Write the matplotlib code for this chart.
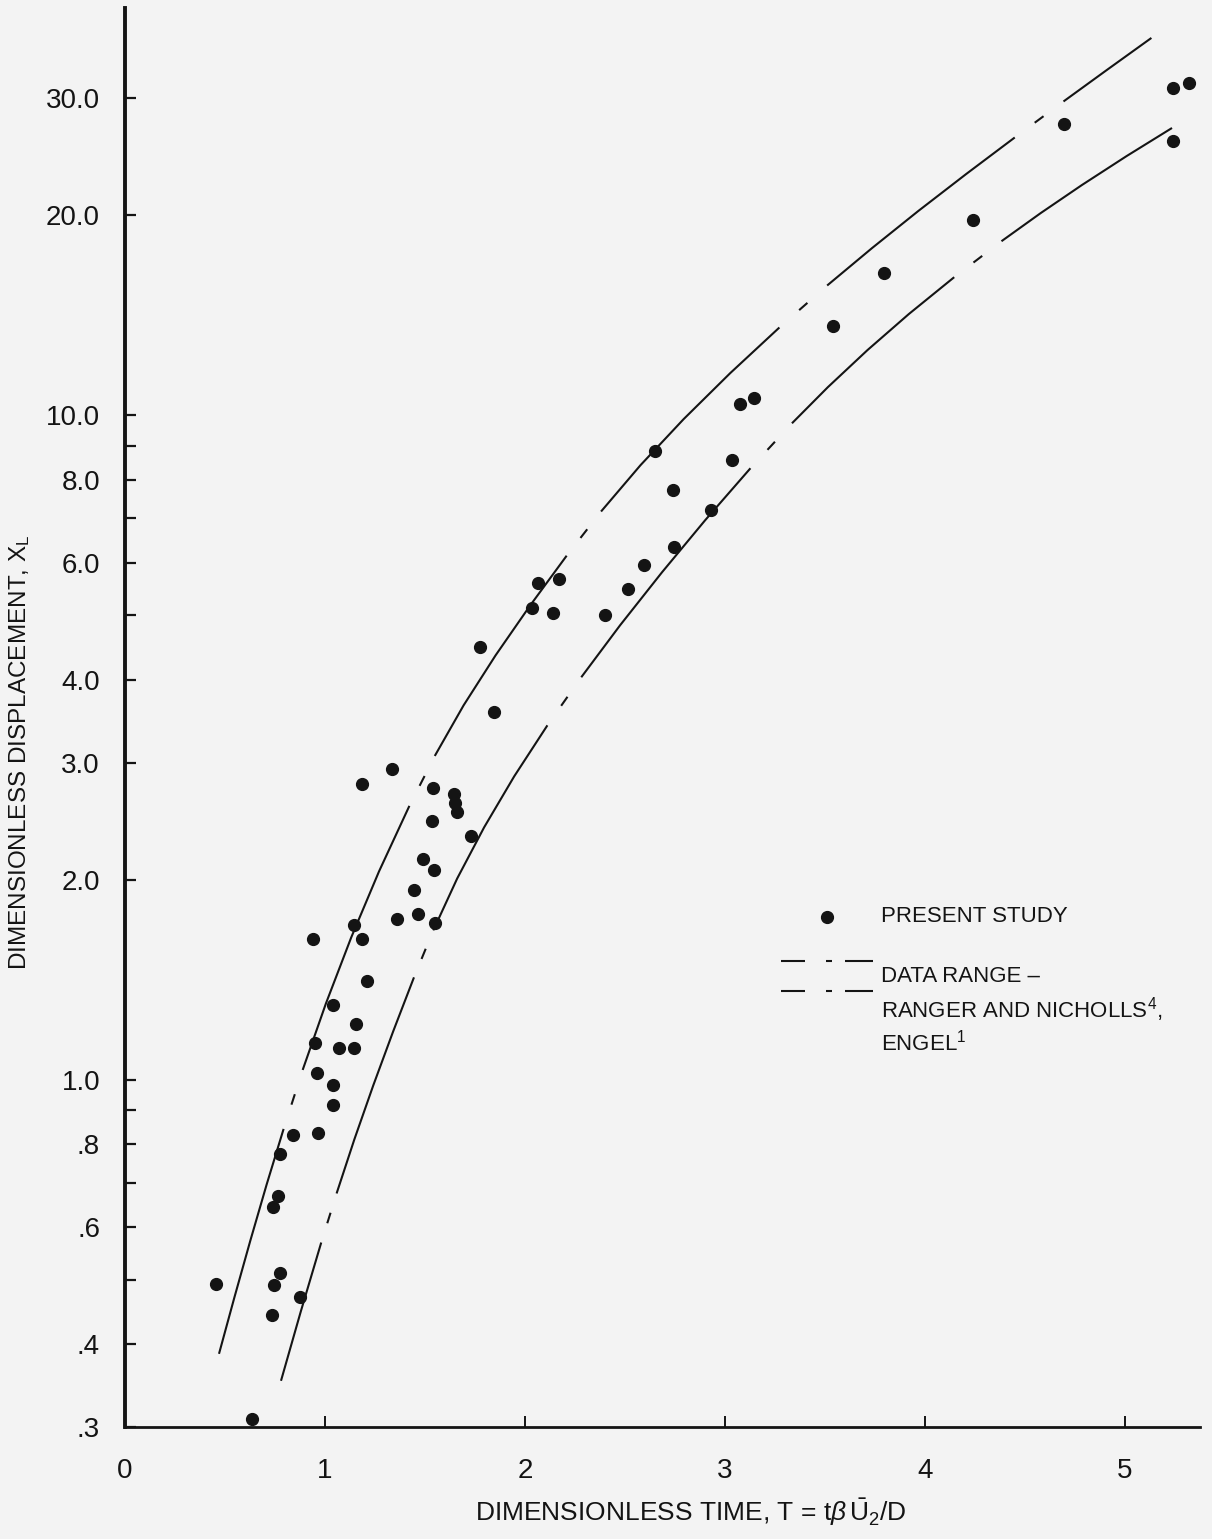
import matplotlib
matplotlib.use("Agg")
import matplotlib.pyplot as plt
from matplotlib.lines import Line2D
from matplotlib.ticker import FixedLocator, FixedFormatter, NullLocator

plt.rcParams['font.family'] = ['Liberation Sans', 'DejaVu Sans']
plt.rcParams['mathtext.fontset'] = 'custom'
plt.rcParams['mathtext.rm'] = 'Liberation Sans'
plt.rcParams['mathtext.it'] = 'Liberation Sans:italic'
plt.rcParams['mathtext.bf'] = 'Liberation Sans:bold'
plt.rcParams['lines.scale_dashes'] = False

# present study: dimensionless time T and displacement X_L
study_t = [0.455, 0.635, 0.735, 0.745, 0.775, 0.875, 0.74, 0.765, 0.775, 0.84,
           0.965, 1.04, 1.04, 0.96, 0.95, 1.07, 1.145, 1.155, 1.04, 1.21,
           0.94, 1.145, 1.185, 1.36, 1.465, 1.55, 1.445, 1.545, 1.49, 1.535,
           1.73, 1.66, 1.65, 1.645, 1.54, 1.185, 1.335, 1.845, 1.775, 2.035,
           2.14, 2.065, 2.17, 2.40, 2.515, 2.595, 2.745, 2.93, 2.74, 2.65,
           3.035, 3.075, 3.145, 3.54, 3.795, 4.24, 4.695, 5.24, 5.24, 5.32]
study_x = [0.493, 0.308, 0.443, 0.491, 0.511, 0.471, 0.642, 0.669, 0.774, 0.826,
           0.832, 0.917, 0.983, 1.024, 1.137, 1.117, 1.117, 1.214, 1.297, 1.405,
           1.63, 1.706, 1.63, 1.742, 1.778, 1.718, 1.93, 2.07, 2.15, 2.45,
           2.33, 2.53, 2.61, 2.69, 2.75, 2.79, 2.93, 3.58, 4.47, 5.12,
           5.03, 5.58, 5.66, 5.01, 5.47, 5.95, 6.33, 7.19, 7.71, 8.83,
           8.56, 10.41, 10.6, 13.63, 16.39, 19.7, 27.4, 25.9, 31.1, 31.6]

# data range bounds (Ranger and Nicholls, Engel)
upper_t = [0.47, 0.5465, 0.6265, 0.708, 0.7935, 0.889, 1.0045, 1.131, 1.27, 1.423,
           1.5505, 1.693, 1.853, 2.0265, 2.21, 2.3815, 2.5775, 2.793, 3.026, 3.274,
           3.5135, 3.735, 3.9665, 4.2065, 4.452, 4.696, 4.9095, 5.132]
upper_x = [0.3866, 0.4695, 0.5721, 0.6948, 0.8437, 1.0353, 1.3015, 1.6363, 2.0571,
           2.5861, 3.0757, 3.6581, 4.3506, 5.1743, 6.1541, 7.1684, 8.4083, 9.8623,
           11.567, 13.567, 15.697, 17.84, 20.29, 23.07, 26.22, 29.71, 33.08, 36.96]
lower_t = [0.78, 0.8785, 0.981, 1.0575, 1.1465, 1.241, 1.3405, 1.4445, 1.541, 1.661,
           1.7955, 1.946, 2.112, 2.281, 2.4755, 2.685, 2.901, 3.1275, 3.3355, 3.5145,
           3.7125, 3.9195, 4.147, 4.3835, 4.579, 4.785, 5.009, 5.235]
lower_x = [0.3521, 0.4472, 0.5683, 0.6733, 0.8123, 0.9794, 1.1810, 1.4242, 1.6762,
           2.0077, 2.3965, 2.8600, 3.4132, 4.0309, 4.8282, 5.8011, 6.9493, 8.3213,
           9.7262, 11.020, 12.530, 14.199, 16.139, 18.282, 20.148, 22.204, 24.553,
           27.052]

ytick_vals = [0.3, 0.4, 0.5, 0.6, 0.7, 0.8, 0.9, 1, 2, 3, 4, 5, 6, 7, 8, 9, 10, 20, 30]
ytick_labels = ['.3', '.4', '', '.6', '', '.8', '', '1.0', '2.0', '3.0', '4.0', '',
                '6.0', '', '8.0', '', '10.0', '20.0', '30.0']
xtick_vals = [0, 1, 2, 3, 4, 5]

W, H = 1212, 1539
BG = '#f3f3f3'
INK = '#141414'


def fx(px):
    return px / W


def fy(py):
    return 1 - py / H


def pts(seq):
    # dash lengths measured in pixels -> points
    return tuple(v * 0.72 for v in seq)


upper_dash = pts([234, 25.5, 11, 25.5, 285, 22.5, 11, 22.5, 240, 22.5, 11, 22.5,
                  256.5, 26.3, 11, 26.3, 239, 24.8, 11, 24.8, 400, 10])
lower_dash = pts([144, 20.2, 11, 20.2, 229.6, 19.9, 11, 19.9, 235, 23.9, 11, 23.9,
                  269, 25.1, 11, 25.1, 218.5, 24.2, 11, 24.2, 400, 10])

fig = plt.figure(figsize=(W / 100, H / 100), dpi=100, facecolor=BG)
ax = fig.add_axes([fx(125), fy(1427), (1200 - 125) / W, (1427 - 8) / H])
ax.set_facecolor(BG)
ax.set_yscale('log')
ax.set_xlim(0, 5.375)
ax.set_ylim(0.3, 41)

ax.plot(upper_t, upper_x, color=INK, lw=1.5, ls=(0, upper_dash))
ax.plot(lower_t, lower_x, color=INK, lw=1.5, ls=(0, lower_dash))
ax.plot(study_t, study_x, 'o', color=INK, ms=8.5, ls='none')

for side in ['top', 'right']:
    ax.spines[side].set_visible(False)
ax.spines['left'].set_linewidth(2.8)
ax.spines['bottom'].set_linewidth(2.0)
ax.spines['left'].set_color(INK)
ax.spines['bottom'].set_color(INK)

ax.yaxis.set_major_locator(FixedLocator(ytick_vals))
ax.yaxis.set_major_formatter(FixedFormatter(ytick_labels))
ax.yaxis.set_minor_locator(NullLocator())
ax.set_xticks(xtick_vals)
ax.set_xticklabels([str(v) for v in xtick_vals])
ax.tick_params(axis='y', direction='in', length=8, width=1.6, pad=18,
               labelsize=20, colors=INK)
ax.tick_params(axis='x', direction='in', length=8, width=1.4, pad=22,
               labelsize=20, colors=INK)

ax.set_xlabel(r'DIMENSIONLESS TIME, T = t$\beta\,\bar{\mathrm{U}}_2$/D',
              fontsize=19, color=INK)
ax.xaxis.set_label_coords(0.526, -0.06)
ax.xaxis.label.set_verticalalignment('center')
ax.set_ylabel(r'DIMENSIONLESS DISPLACEMENT, X$_\mathrm{L}$', fontsize=17.5, color=INK)
ax.yaxis.set_label_coords(-0.0977, 0.4757)
ax.yaxis.label.set_verticalalignment('center')

# legend
fs = 16
fig.add_artist(Line2D([fx(827)], [fy(917)], marker='o', ms=8.5, color=INK,
                      ls='none', transform=fig.transFigure))
fig.text(fx(881), fy(917), 'PRESENT STUDY', fontsize=fs, color=INK,
         ha='left', va='center')
for py in (961, 991):
    fig.add_artist(Line2D([fx(781), fx(873)], [fy(py), fy(py)], color=INK, lw=1.5,
                          ls=(0, pts([24, 21, 6, 13, 40])), transform=fig.transFigure))
fig.text(fx(881), fy(977), 'DATA RANGE \u2013', fontsize=fs, color=INK,
         ha='left', va='center')
fig.text(fx(881), fy(1010), r'RANGER AND NICHOLLS$^4$,', fontsize=fs, color=INK,
         ha='left', va='center')
fig.text(fx(881), fy(1043), r'ENGEL$^1$', fontsize=fs, color=INK,
         ha='left', va='center')

fig.savefig('out.png', dpi=100, facecolor=BG)
